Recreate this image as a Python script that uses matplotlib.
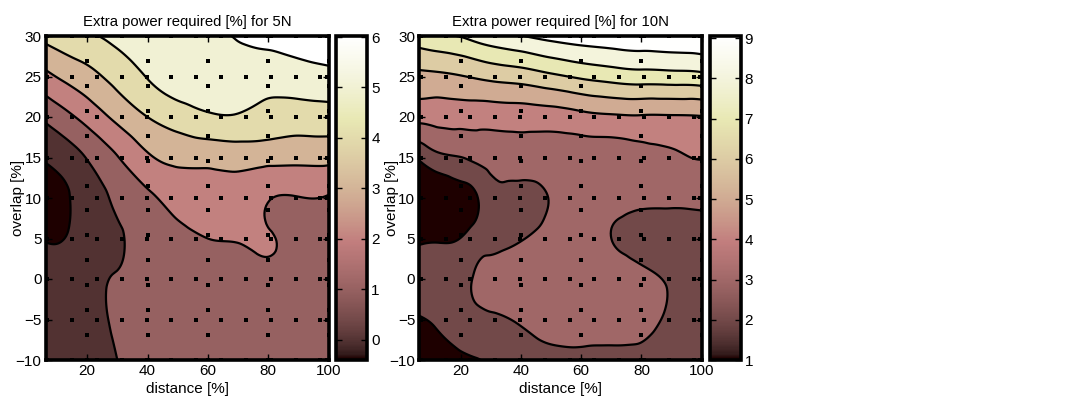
import numpy as np
import matplotlib
matplotlib.use("Agg")
import matplotlib.pyplot as plt
import matplotlib.tri as mtri
from matplotlib.colors import Normalize
from matplotlib.cm import ScalarMappable

plt.rcParams['font.family'] = ['Liberation Sans', 'DejaVu Sans']

distance = [6.25, 12.5, 20, 25, 30, 40, 50, 60, 70, 80, 90, 100]
overlap = [-10, -5, 0, 5, 10, 15, 20, 25, 30]

# extra power required [%], one row per overlap value (bottom to top)
power_5n = [
    [0.45, 0.55, 0.70, 0.85, 1.00, 1.30, 1.45, 1.50, 1.55, 1.55, 1.55, 1.50],
    [0.40, 0.50, 0.65, 0.90, 1.10, 1.30, 1.45, 1.55, 1.60, 1.60, 1.60, 1.55],
    [0.30, 0.40, 0.55, 0.90, 1.05, 1.30, 1.50, 1.65, 1.65, 1.75, 1.65, 1.60],
    [-0.05, 0.00, 0.45, 0.70, 0.90, 1.35, 1.75, 2.00, 2.05, 2.06, 1.75, 1.70],
    [-0.35, -0.15, 0.55, 0.85, 1.20, 1.80, 2.35, 2.55, 2.55, 2.05, 1.97, 1.93],
    [0.10, 0.45, 1.05, 1.50, 1.95, 2.85, 3.25, 3.30, 3.40, 3.35, 3.30, 3.30],
    [1.20, 1.70, 2.35, 2.80, 3.25, 4.00, 4.50, 4.85, 4.90, 4.60, 4.50, 4.55],
    [2.75, 3.20, 3.65, 4.00, 4.35, 5.05, 5.50, 5.55, 5.60, 5.45, 5.60, 5.75],
    [4.30, 4.60, 4.90, 5.05, 5.30, 5.60, 5.70, 5.85, 6.05, 6.30, 6.40, 6.50],
]
power_10n = [
    [1.40, 1.55, 1.80, 1.95, 2.15, 2.60, 2.80, 2.85, 2.85, 2.75, 2.60, 2.55],
    [1.95, 2.15, 2.60, 2.75, 2.85, 3.10, 3.30, 3.30, 3.30, 3.25, 2.85, 2.60],
    [2.30, 2.35, 2.65, 3.10, 3.30, 3.45, 3.55, 3.55, 3.45, 3.20, 2.90, 2.65],
    [1.85, 1.90, 2.02, 2.45, 2.70, 2.95, 3.35, 3.50, 3.00, 2.75, 2.70, 2.70],
    [1.05, 1.25, 1.55, 1.90, 2.60, 2.75, 3.05, 3.30, 3.30, 3.20, 3.20, 3.25],
    [2.15, 2.75, 2.98, 3.20, 3.35, 3.45, 3.50, 3.55, 3.60, 3.75, 3.90, 4.02],
    [4.30, 4.35, 4.40, 4.40, 4.40, 4.45, 4.50, 4.70, 4.85, 4.90, 4.90, 4.95],
    [5.75, 5.80, 5.95, 6.10, 6.25, 6.45, 6.80, 7.15, 7.40, 7.55, 7.60, 7.70],
    [7.60, 7.85, 8.05, 8.35, 8.60, 8.97, 9.30, 9.50, 9.60, 9.65, 9.70, 9.75],
]

levels_5n = [0, 1, 2, 3, 4, 5, 6]
levels_10n = [2, 3, 4, 5, 6, 7, 8, 9]
clim_5n = (-0.4, 6.02)
clim_10n = (1.0, 9.05)

# measurement points (two overlaid sampling grids)
dots_a_x = [6.77, 15.0, 23.23, 31.46, 39.69, 47.92, 56.15, 64.38, 72.61,
            80.84, 89.07, 97.3, 99.4]
dots_a_y = [-10, -5, 0, 5, 10, 15, 20, 25, 30]
dots_b_x = [20, 40, 60, 80, 100]
dots_b_y = [-10, -6.92, -3.85, -0.77, 2.31, 5.38, 8.46, 11.54, 14.62,
            17.69, 20.77, 23.85, 26.92, 30]

cmap = plt.get_cmap('pink')
FS = 11
LW_FRAME = 2.6


def draw_panel(ax, cax, power, levels, clim, title):
    gx, gy = np.meshgrid(distance, overlap)
    tri = mtri.Triangulation(gx.ravel(), gy.ravel())
    refiner = mtri.UniformTriRefiner(tri)
    tri_f, z_f = refiner.refine_field(np.asarray(power).ravel(), subdiv=4)

    norm = Normalize(*clim)
    # matlab style: each band takes the colour of its lower level
    band_vals = [clim[0]] + list(levels)
    colors = [cmap(norm(v)) for v in band_vals]
    fill_levels = [-100] + list(levels) + [100]
    ax.tricontourf(tri_f, z_f, levels=fill_levels, colors=colors)
    ax.tricontour(tri_f, z_f, levels=levels, colors='k', linewidths=1.6)

    ax_x, ax_y = np.meshgrid(dots_a_x, dots_a_y)
    ax.plot(ax_x.ravel(), ax_y.ravel(), 's', color='k', ms=2.2, mew=0, zorder=2.3)
    bx, by = np.meshgrid(dots_b_x, dots_b_y)
    ax.plot(bx.ravel(), by.ravel(), 's', color='k', ms=2.2, mew=0, zorder=2.3)

    ax.set_xlim(6.25, 100)
    ax.set_ylim(-10, 30)
    ax.set_xticks([20, 40, 60, 80, 100])
    ax.set_yticks(range(-10, 31, 5))
    ax.set_yticklabels(['\u221210', '\u22125', '0', '5', '10', '15', '20', '25', '30'])
    ax.tick_params(direction='in', length=4, width=1, top=True, right=True,
                   labelsize=FS, pad=3)
    for s in ax.spines.values():
        s.set_linewidth(LW_FRAME)
    ax.set_title(title, fontsize=10.7, pad=7)
    ax.set_xlabel('distance [%]', fontsize=FS)
    ax.set_ylabel('overlap [%]', fontsize=FS)
    ax.xaxis.set_label_coords(0.5, -0.068)
    ax.yaxis.set_label_coords(-0.072, 0.5)

    sm = ScalarMappable(norm=norm, cmap=cmap)
    cb = plt.colorbar(sm, cax=cax, ticks=range(int(np.ceil(clim[0])), int(clim[1]) + 1))
    cb.outline.set_linewidth(LW_FRAME)
    cax.tick_params(direction='in', length=4, width=1, left=True, right=True,
                    labelsize=FS, pad=3)


fig = plt.figure(figsize=(10.77, 4.0), dpi=100)
ax1 = fig.add_axes([45.7 / 1077, 0.1, 282.8 / 1077, 0.81])
cax1 = fig.add_axes([335.5 / 1077, 0.1, 31.5 / 1077, 0.81])
ax2 = fig.add_axes([419.3 / 1077, 0.1, 282.4 / 1077, 0.81])
cax2 = fig.add_axes([709.5 / 1077, 0.1, 31 / 1077, 0.81])

draw_panel(ax1, cax1, power_5n, levels_5n, clim_5n, 'Extra power required [%] for 5N')
draw_panel(ax2, cax2, power_10n, levels_10n, clim_10n, 'Extra power required [%] for 10N')

fig.savefig('out.png', dpi=100)
